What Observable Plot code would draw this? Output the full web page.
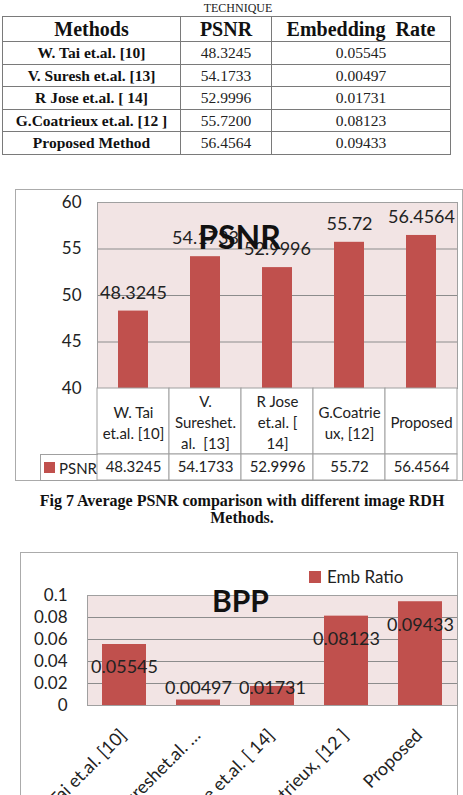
<!DOCTYPE html>
<html><head><meta charset="utf-8">
<script src="https://cdn.jsdelivr.net/npm/d3@7"></script>
<script src="https://cdn.jsdelivr.net/npm/@observablehq/plot@0.6"></script>
<style>
html,body{margin:0;padding:0;}
body{width:463px;height:795px;overflow:hidden;background:#fff;position:relative;font-family:"Liberation Serif","Times New Roman",serif;color:#111;}
.abs{position:absolute;}
.cap{font-size:12px;left:0;width:476px;text-align:center;top:1px;color:#222;}
table.tbl{border-collapse:collapse;left:2px;top:16px;table-layout:fixed;}
table.tbl th,table.tbl td{border:1px solid #7a7a7a;padding:0;text-align:center;line-height:1;}
table.tbl th{font-size:20px;font-weight:bold;height:24px;}
table.tbl td{font-size:15.5px;height:21.5px;color:#222;}
table.tbl td.m{font-weight:bold;color:#111;}
.frame{border:1px solid #ababab;box-sizing:border-box;}
.chart svg{overflow:visible;}
.fig{left:20px;width:444px;text-align:center;font-weight:bold;font-size:16px;line-height:17px;top:492px;}
.lg{font-family:Lato,sans-serif;color:#222;display:flex;align-items:center;}
.sw{display:inline-block;background:#c0504d;}
</style></head><body>
<script>
// ---- data ----
const methods = ["W. Tai et.al. [10]", "V. Suresh et.al. [13]", "R Jose et.al. [ 14]", "G.Coatrieux et.al. [12 ]", "Proposed Method"];
const psnrText = ["48.3245", "54.1733", "52.9996", "55.7200", "56.4564"];
const rateText = ["0.05545", "0.00497", "0.01731", "0.08123", "0.09433"];
const psnrValues = [48.3245, 54.1733, 52.9996, 55.72, 56.4564];
const psnrLabels = ["48.3245", "54.1733", "52.9996", "55.72", "56.4564"];
const embRate = [0.05545, 0.00497, 0.01731, 0.08123, 0.09433];
const psnrCats = ["W. Tai\net.al. [10]", "V.\nSureshet.\nal.  [13]", "R Jose\net.al. [\n14]", "G.Coatrie\nux, [12]", "Proposed"];
const bppCats = ["W. Tai et.al. [10]", "V. Sureshet.al. \u2026", "R Jose et.al. [ 14]", "G.Coatrieux, [12 ]", "Proposed"];
const psnrTicks = [40, 45, 50, 55, 60];
const bppTicks = [0, 0.02, 0.04, 0.06, 0.08, 0.1];
const headers = ["Methods", "PSNR", "Embedding  Rate"];

const BAR = "#c0504d", BG = "#f2e4e4", GRID = "#8c8c8c", EDGE = "#a0a0a0", TXT = "#222";
const body = d3.select("body");

// ---- top table ----
body.append("div").attr("class", "abs cap").text("TECHNIQUE");
const tbl = body.append("table").attr("class", "abs tbl");
const cg = tbl.append("colgroup");
[178, 91, 179].forEach(w => cg.append("col").style("width", w + "px"));
const hr = tbl.append("tr");
headers.forEach(h => hr.append("th").style("white-space", "pre").text(h));
methods.forEach((m, i) => {
  const tr = tbl.append("tr");
  tr.append("td").attr("class", "m").text(m);
  tr.append("td").text(psnrText[i]);
  tr.append("td").text(rateText[i]);
});

// ---- PSNR chart ----
body.append("div").attr("class", "abs frame").style("left", "15px").style("top", "189px").style("width", "448px").style("height", "292px");
const pd = psnrCats.map((c, i) => ({cat: c, v: psnrValues[i], label: psnrLabels[i]}));
const font = {fontFamily: "Lato, sans-serif", fontSize: "17px", color: TXT, background: "transparent", overflow: "visible"};
const c1 = Plot.plot({
  width: 463, height: 200, marginLeft: 97, marginRight: 6, marginTop: 14, marginBottom: 0,
  style: font,
  x: {domain: psnrCats, padding: 0, axis: null},
  y: {domain: [40, 60]},
  marks: [
    Plot.frame({fill: BG}),
    Plot.gridY(psnrTicks, {stroke: GRID, strokeOpacity: 1}),
    Plot.frame({stroke: EDGE}),
    Plot.axisY(psnrTicks, {tickSize: 0, tickPadding: 16, fontSize: 17, label: null}),
    Plot.barY(pd, {x: "cat", y1: 40, y2: "v", fill: BAR, insetLeft: 21, insetRight: 21}),
    Plot.text(pd, {x: "cat", y: "v", text: "label", dy: -18, fontSize: 18, fill: TXT}),
    Plot.text(["PSNR"], {text: d => d, frameAnchor: "top", dx: -38, dy: 24, fontSize: 32, fontWeight: "bold", fill: "#111"})
  ]
});
body.append("div").attr("class", "abs chart").style("left", "0px").style("top", "188px").node().append(c1);

const c2 = Plot.plot({
  width: 463, height: 66, marginLeft: 97, marginRight: 6, marginTop: 0, marginBottom: 0,
  style: font,
  x: {domain: psnrCats, padding: 0, axis: null},
  marks: [
    Plot.cell(psnrCats, {x: d => d, fill: "white", stroke: EDGE}),
    Plot.text(psnrCats, {x: d => d, text: d => d, fontSize: 15, lineHeight: 1.4, fill: TXT})
  ]
});
body.append("div").attr("class", "abs chart").style("left", "0px").style("top", "388px").node().append(c2);

const c3 = Plot.plot({
  width: 463, height: 26, marginLeft: 97, marginRight: 6, marginTop: 0, marginBottom: 0,
  style: font,
  x: {domain: psnrCats, padding: 0, axis: null},
  marks: [
    Plot.cell(pd, {x: "cat", fill: "white", stroke: EDGE}),
    Plot.text(pd, {x: "cat", text: "label", fontSize: 15, fill: TXT})
  ]
});
body.append("div").attr("class", "abs chart").style("left", "0px").style("top", "454px").node().append(c3);
const lgc = body.append("div").attr("class", "abs lg").style("left", "40px").style("top", "454px").style("width", "58px").style("height", "27px")
  .style("box-sizing", "border-box").style("border", "1px solid " + EDGE).style("border-right", "none").style("font-size", "15px").style("padding-left", "3px");
lgc.append("span").attr("class", "sw").style("width", "11px").style("height", "11px").style("margin-right", "4px");
lgc.append("span").text("PSNR");

body.append("div").attr("class", "abs fig").html("Fig 7 Average PSNR comparison with different image RDH<br>Methods.");

// ---- BPP chart ----
body.append("div").attr("class", "abs frame").style("left", "20px").style("top", "552px").style("width", "438px").style("height", "300px");
const bd = bppCats.map((c, i) => ({cat: c, v: embRate[i], label: rateText[i]}));
const c4 = Plot.plot({
  width: 463, height: 243, marginLeft: 87, marginRight: 6, marginTop: 43, marginBottom: 90,
  style: font,
  x: {domain: bppCats, padding: 0, axis: null},
  y: {domain: [0, 0.1]},
  marks: [
    Plot.frame({fill: BG}),
    Plot.gridY(bppTicks, {stroke: GRID, strokeOpacity: 1}),
    Plot.frame({stroke: EDGE}),
    Plot.axisY(bppTicks, {tickSize: 0, tickPadding: 20, tickFormat: d => String(d), fontSize: 17, label: null}),
    Plot.barY(bd, {x: "cat", y: "v", fill: BAR, insetLeft: 15, insetRight: 15}),
    Plot.text(bd, {x: "cat", y: d => Math.max(d.v - 0.021, 0.016), text: "label", fontSize: 18, fill: TXT}),
    Plot.text(bppCats, {x: d => d, text: d => d, frameAnchor: "bottom", rotate: -45, textAnchor: "end", lineAnchor: "bottom", dx: 3, dy: 31, fontSize: 18, fill: TXT}),
    Plot.text(["BPP"], {text: d => d, frameAnchor: "top", dx: -32, dy: -5, fontSize: 30, fontWeight: "bold", fill: "#111"})
  ]
});
body.append("div").attr("class", "abs chart").style("left", "0px").style("top", "552px").node().append(c4);
const lg2 = body.append("div").attr("class", "abs lg").style("left", "309px").style("top", "566px").style("font-size", "17px");
lg2.append("span").attr("class", "sw").style("width", "12px").style("height", "12px").style("margin-right", "6px");
lg2.append("span").text("Emb Ratio");
</script>
</body></html>
